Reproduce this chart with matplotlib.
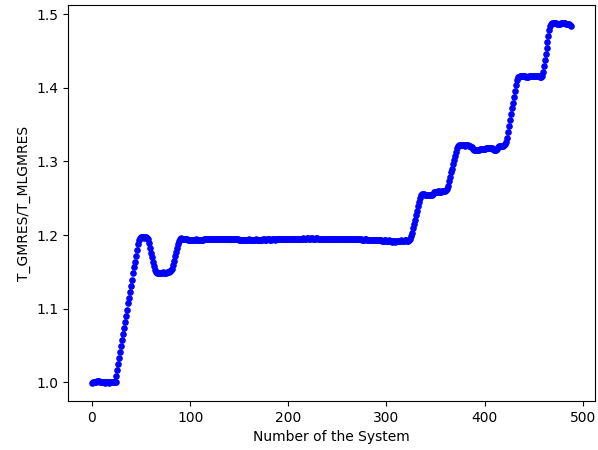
import matplotlib
matplotlib.use('Agg')
import matplotlib.pyplot as plt

# time ratio GMRES / MLGMRES for each system
ratio = [
    0.999, 1.000, 1.000, 1.001, 1.001, 1.002, 1.002, 1.002, 1.001, 1.001,
    1.000, 1.000, 1.000, 0.999, 1.000, 1.000, 1.000, 0.999, 1.000, 1.000,
    1.000, 1.000, 1.000, 1.000, 1.001,
    1.008, 1.016, 1.025, 1.033, 1.041, 1.049, 1.057, 1.066, 1.074, 1.082,
    1.090, 1.098, 1.107, 1.115, 1.123, 1.131, 1.139, 1.148, 1.156, 1.164,
    1.172, 1.180, 1.188, 1.193, 1.196,
    1.197, 1.197, 1.197, 1.196, 1.197, 1.197, 1.196, 1.195,
    1.189, 1.183, 1.176, 1.170, 1.164, 1.158, 1.153, 1.150, 1.149,
    1.149, 1.149, 1.148, 1.149, 1.149, 1.150, 1.149, 1.149, 1.149, 1.150,
    1.150, 1.150, 1.151, 1.151, 1.152, 1.154,
    1.159, 1.165, 1.171, 1.177, 1.183, 1.188, 1.192, 1.195, 1.196,
    1.195, 1.195, 1.194, 1.194, 1.194, 1.194, 1.193, 1.193, 1.193, 1.193,
    1.193, 1.193, 1.193, 1.193, 1.194, 1.193, 1.193, 1.193, 1.193, 1.193,
    1.193, 1.193, 1.194, 1.194, 1.194, 1.194, 1.194, 1.194, 1.194, 1.195,
    1.195, 1.195, 1.195, 1.195, 1.195, 1.195, 1.195, 1.195, 1.195, 1.195,
    1.195, 1.195, 1.195, 1.195, 1.194, 1.194, 1.194, 1.194, 1.194, 1.194,
    1.194, 1.194, 1.194, 1.194, 1.194, 1.194, 1.194, 1.194, 1.193, 1.193,
    1.193, 1.193, 1.193, 1.193, 1.193, 1.193, 1.193, 1.193, 1.194, 1.193,
    1.193, 1.193, 1.193, 1.193, 1.193, 1.194, 1.193, 1.193, 1.193, 1.193,
    1.193, 1.193, 1.194, 1.194, 1.193, 1.193, 1.194, 1.194, 1.194, 1.193,
    1.193, 1.194, 1.194, 1.194, 1.193, 1.194, 1.194, 1.194, 1.194, 1.194,
    1.194, 1.194, 1.194, 1.194, 1.194, 1.194, 1.194, 1.194, 1.195, 1.194,
    1.194, 1.195, 1.195, 1.195, 1.195, 1.195, 1.195, 1.195, 1.195, 1.195,
    1.195, 1.195, 1.195, 1.196, 1.195, 1.195, 1.195, 1.196, 1.196, 1.195,
    1.195, 1.196, 1.196, 1.195, 1.195, 1.195, 1.196, 1.196, 1.195, 1.195,
    1.195, 1.195, 1.195, 1.195, 1.194, 1.195, 1.195, 1.195, 1.195, 1.195,
    1.194, 1.194, 1.195, 1.195, 1.195, 1.195, 1.195, 1.195, 1.195, 1.194,
    1.194, 1.195, 1.195, 1.194, 1.194, 1.194, 1.195, 1.195, 1.194, 1.194,
    1.194, 1.194, 1.194, 1.194, 1.195, 1.194, 1.194, 1.194, 1.194, 1.194,
    1.194, 1.194, 1.194, 1.193, 1.193, 1.193, 1.194, 1.194, 1.193, 1.193,
    1.193, 1.193, 1.193, 1.193, 1.193, 1.193, 1.193, 1.193, 1.193, 1.193,
    1.193, 1.193, 1.193, 1.192, 1.192, 1.192, 1.193, 1.193, 1.192, 1.192,
    1.192, 1.193, 1.192, 1.192, 1.191, 1.192, 1.192, 1.191, 1.192, 1.192,
    1.192, 1.192, 1.192, 1.193, 1.192, 1.192, 1.192, 1.193, 1.193, 1.192,
    1.192, 1.193, 1.194,
    1.198, 1.203, 1.209, 1.215, 1.221, 1.227, 1.233, 1.239, 1.245, 1.250,
    1.254, 1.256,
    1.256, 1.256, 1.255, 1.255, 1.254, 1.254, 1.254, 1.254, 1.255, 1.255,
    1.256,
    1.259, 1.259, 1.259, 1.259, 1.260, 1.260, 1.259, 1.259, 1.259, 1.260,
    1.260, 1.260, 1.260, 1.261, 1.262,
    1.267, 1.273, 1.279, 1.285, 1.290, 1.296, 1.302, 1.308, 1.313, 1.318,
    1.321, 1.322,
    1.322, 1.322, 1.322, 1.322, 1.322, 1.321, 1.322, 1.322, 1.322, 1.321,
    1.321, 1.320, 1.319, 1.317,
    1.316, 1.316, 1.315, 1.315, 1.316, 1.316, 1.317, 1.317, 1.317, 1.317,
    1.317, 1.317, 1.318, 1.318, 1.318, 1.318, 1.318, 1.318, 1.318, 1.317,
    1.317, 1.316, 1.316, 1.316, 1.317,
    1.320, 1.321, 1.321, 1.321, 1.321, 1.321, 1.322, 1.323, 1.326,
    1.332, 1.340, 1.348, 1.356, 1.364, 1.372, 1.380, 1.388, 1.396, 1.404,
    1.411, 1.415,
    1.415, 1.416, 1.416, 1.416, 1.416, 1.416, 1.416, 1.415, 1.415, 1.415,
    1.416, 1.416, 1.416, 1.416, 1.416, 1.416, 1.416, 1.416, 1.416, 1.416,
    1.416, 1.415, 1.415, 1.416,
    1.422, 1.430, 1.438, 1.446, 1.454, 1.462, 1.470, 1.478, 1.484, 1.487,
    1.488, 1.488, 1.488, 1.488, 1.488, 1.487, 1.487, 1.487, 1.487, 1.488,
    1.488, 1.488, 1.488, 1.488, 1.487, 1.487, 1.487, 1.486, 1.485, 1.484,
]

fig = plt.figure(figsize=(5.98, 4.5), dpi=100)
ax = fig.add_axes([0.1137, 0.1089, 0.8813, 0.88])
ax.plot(ratio, 'b.', markersize=7.5)
ax.set_xlabel('Number of the System')
ax.set_ylabel('T_GMRES/T_MLGMRES')
fig.savefig('out.png', dpi=100)
